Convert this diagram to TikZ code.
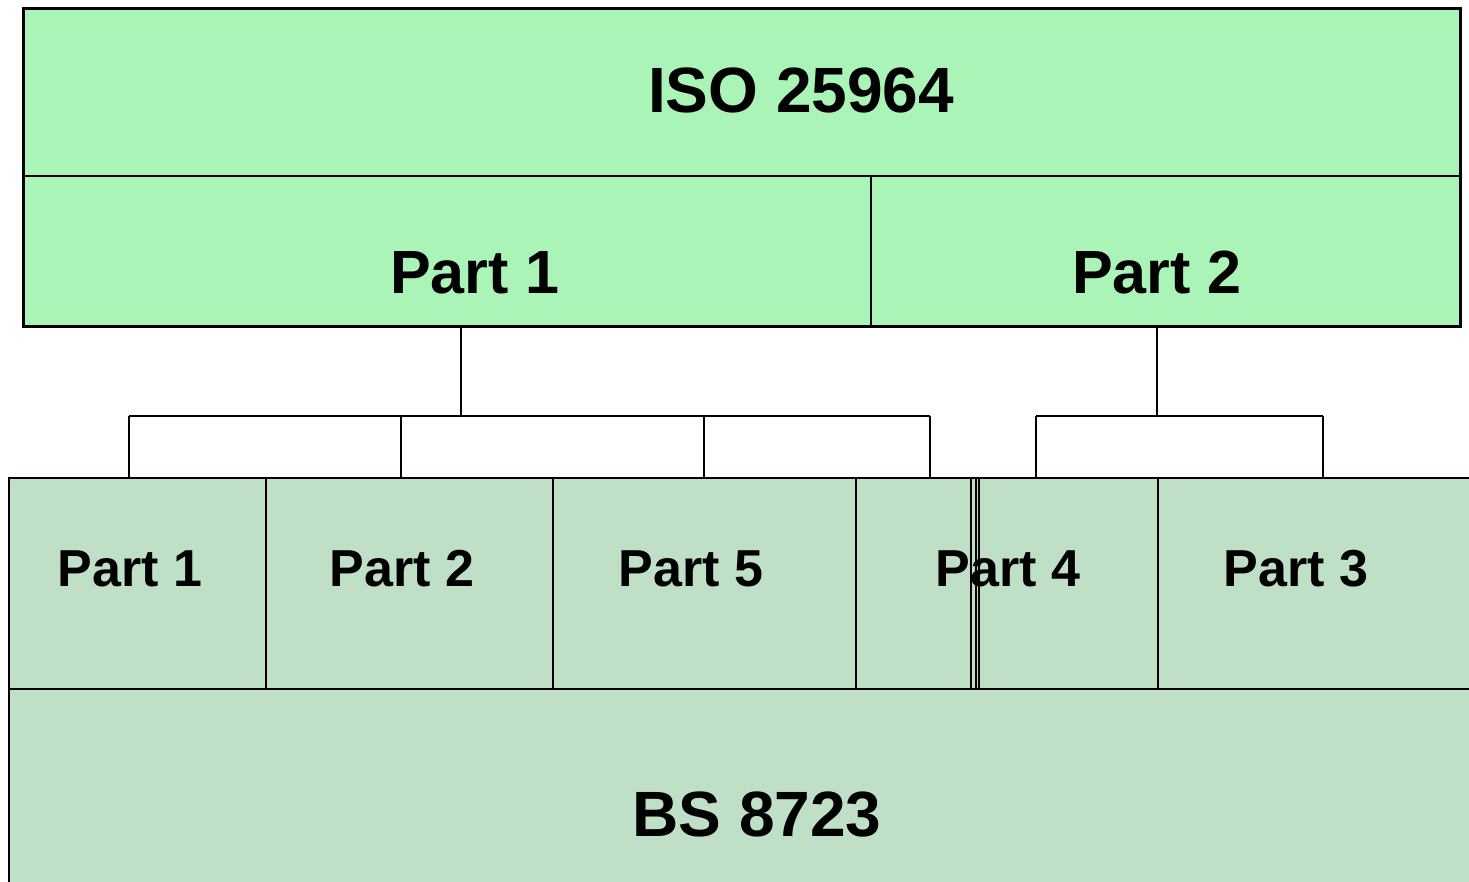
\documentclass[tikz,border=0pt]{standalone}
\usepackage{fontspec}
\setmainfont{Liberation Sans}
\definecolor{topgreen}{RGB}{171,244,183}
\definecolor{lowgreen}{RGB}{191,224,198}
\tikzset{
  cell/.style={draw=black, line width=1.5pt, inner sep=0pt, anchor=north west},
  topcell/.style={cell, fill=topgreen},
  lowcell/.style={cell, fill=lowgreen},
  bigtext/.style={font=\bfseries\fontsize{64}{70}\selectfont, anchor=base, inner sep=0pt},
  midtext/.style={font=\bfseries\fontsize{61}{67}\selectfont, anchor=base, inner sep=0pt},
  parttext/.style={font=\bfseries\fontsize{52}{58}\selectfont, anchor=base, inner sep=0pt},
  link/.style={draw=black, line width=1.5pt}
}
\begin{document}
\begin{tikzpicture}[x=1pt, y=-1pt]
\useasboundingbox (0,0) rectangle (1469,881);
\begin{scope}
\clip (0,0) rectangle (1469,881);
% ISO 25964 block
\node[topcell, minimum width=1436pt, minimum height=167pt] (iso) at (23,8) {};
\node[topcell, minimum width=847pt, minimum height=150pt] (isop1) at (23,175) {};
\node[topcell, minimum width=589pt, minimum height=150pt] (isop2) at (870,175) {};
\draw[line width=2pt] (iso.north west) rectangle (isop2.south east);
% BS 8723 block
\node[lowcell, minimum width=257pt, minimum height=211pt] (bs1) at (8,477) {};
\node[lowcell, minimum width=287pt, minimum height=211pt] (bs2) at (265,477) {};
\node[lowcell, minimum width=303pt, minimum height=211pt] (bs5) at (552,477) {};
\node[lowcell, minimum width=120pt, minimum height=211pt] (bs4a) at (855,477) {};
\node[lowcell, minimum width=182pt, minimum height=211pt] (bs4b) at (975,477) {};
\node[lowcell, minimum width=330pt, minimum height=211pt] (bs3) at (1157,477) {};
\node[lowcell, minimum width=1480pt, minimum height=220pt] (bs) at (8,688) {};
\draw[line width=1.5pt] (971,477) -- (971,688) (979,477) -- (979,688);
\end{scope}
% labels
\node[bigtext] (tiso) at (801,112) {ISO 25964};
\node[midtext] (tp1) at (475,293) {Part 1};
\node[midtext] (tp2) at (1157,293) {Part 2};
\node[parttext] (b1) at (130,586) {Part 1};
\node[parttext] (b2) at (402,586) {Part 2};
\node[parttext] (b5) at (691,586) {Part 5};
\node[parttext] (b4) at (1008,586) {Part 4};
\node[parttext] (b3) at (1296,586) {Part 3};
\node[bigtext] (tbs) at (757,836) {BS 8723};
% tree connectors from ISO parts to BS parts
\coordinate (j1) at (461,416);
\coordinate (j2) at (1157,416);
\coordinate (l1) at (129,416);
\coordinate (r1) at (930,416);
\coordinate (l2) at (1036,416);
\coordinate (r2) at (1323,416);
\draw[link] (isop1.south -| j1) -- (j1);
\draw[link] (isop2.south -| j2) -- (j2);
\draw[link] (l1) -- (r1);
\draw[link] (l2) -- (r2);
\foreach \x in {129,401,704,930,1036,1323} {
  \coordinate (d) at (\x,416);
  \draw[link] (d) -- (bs1.north -| d);
}
\end{tikzpicture}
\end{document}
